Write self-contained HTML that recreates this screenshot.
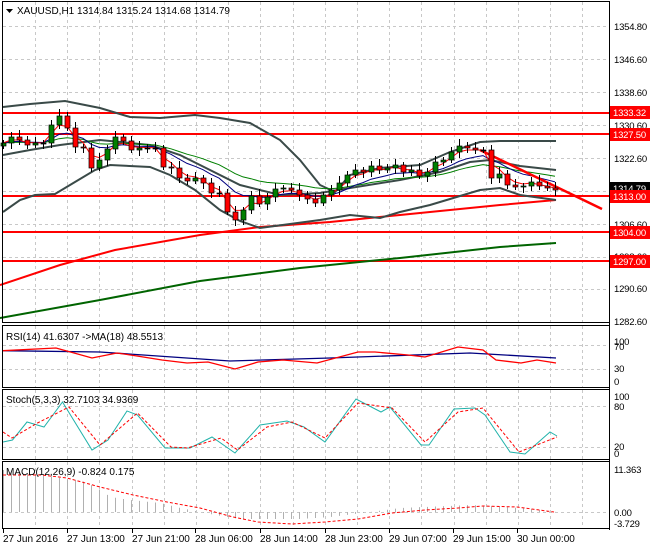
<!DOCTYPE html>
<html><head><meta charset="utf-8"><style>
html,body{margin:0;padding:0;background:#fff;}
svg{display:block;font-family:"Liberation Sans",sans-serif;font-size:10px;}
.ax text{font-size:9.5px;letter-spacing:-0.2px;}
</style></head><body>
<svg id="c" width="650" height="550" xmlns="http://www.w3.org/2000/svg">
<rect width="650" height="550" fill="#fff"/>
<g id="grid" stroke="#c8c8c8" stroke-dasharray="3,3" stroke-width="1"></g>
<g id="main"></g>
<g fill="none" stroke="#000" stroke-width="1">
<rect x="2.5" y="1.5" width="607" height="321"/>
<rect x="2.5" y="325.5" width="607" height="62"/>
<rect x="2.5" y="389.5" width="607" height="70"/>
<rect x="2.5" y="461.5" width="607" height="67"/>
</g>
<g id="ticks" stroke="#000"></g>
<path d="M6 9 L13 9 L9.5 13 Z" fill="#000"/>
<text x="17" y="14" fill="#000">XAUUSD,H1  1314.84 1315.24 1314.68 1314.79</text>
<text x="6" y="340" fill="#000">RSI(14) 41.6307  -&gt;MA(18) 48.5513</text>
<text x="6" y="403" fill="#000">Stoch(5,3,3) 32.7103 34.9369</text>
<text x="6" y="475" fill="#000">MACD(12,26,9) -0.824 0.175</text>
<g class="ax" fill="#000">
<text x="614" y="30">1354.80</text>
<text x="614" y="63">1346.60</text>
<text x="614" y="96">1338.60</text>
<text x="614" y="129">1330.60</text>
<text x="614" y="162">1322.60</text>
<text x="614" y="228">1306.60</text>
<text x="614" y="260">1298.60</text>
<text x="614" y="292">1290.60</text>
<text x="614" y="325">1282.60</text>
<text x="614" y="345">100</text>
<text x="614" y="350">70</text>
<text x="614" y="372">30</text>
<text x="614" y="385">0</text>
<text x="614" y="400">100</text>
<text x="614" y="410">80</text>
<text x="614" y="450">20</text>
<text x="614" y="457">0</text>
<text x="614" y="473">11.363</text>
<text x="614" y="516">0.00</text>
<text x="614" y="527">-3.729</text>
</g>
<g class="ax">
<rect x="610" y="106" width="40" height="13" fill="#f00"/><text x="613" y="116" fill="#fff">1333.32</text>
<rect x="610" y="128" width="40" height="13" fill="#f00"/><text x="613" y="138" fill="#fff">1327.50</text>
<rect x="610" y="182" width="40" height="13" fill="#000"/><text x="613" y="192" fill="#fff">1314.79</text>
<rect x="610" y="190" width="40" height="13" fill="#f00"/><text x="613" y="200" fill="#fff">1313.00</text>
<rect x="610" y="226" width="40" height="13" fill="#f00"/><text x="613" y="236" fill="#fff">1304.00</text>
<rect x="610" y="255" width="40" height="13" fill="#f00"/><text x="613" y="265" fill="#fff">1297.00</text>
</g>
<g fill="#000">
<text x="3" y="542">27 Jun 2016</text>
<text x="67" y="542">27 Jun 13:00</text>
<text x="132" y="542">27 Jun 21:00</text>
<text x="195" y="542">28 Jun 06:00</text>
<text x="260" y="542">28 Jun 14:00</text>
<text x="325" y="542">28 Jun 23:00</text>
<text x="389" y="542">29 Jun 07:00</text>
<text x="453" y="542">29 Jun 15:00</text>
<text x="517" y="542">30 Jun 00:00</text>
</g>
</svg>
<script>
var NS="http://www.w3.org/2000/svg";
function el(p,t,a){var e=document.createElementNS(NS,t);for(var k in a)e.setAttribute(k,a[k]);document.getElementById(p).appendChild(e);return e;}
function pl(p,pts,col,w,dash){var s=pts.map(function(q){return q[0]+","+q[1]}).join(" ");var a={points:s,fill:"none",stroke:col,"stroke-width":w};if(dash)a["stroke-dasharray"]=dash;el(p,"polyline",a);}
var gx=[];for(var x=35;x<609;x+=32.2)gx.push(Math.round(x)+0.5);
gx.forEach(function(x){el("grid","line",{x1:x,y1:2,x2:x,y2:322});el("grid","line",{x1:x,y1:326,x2:x,y2:387});el("grid","line",{x1:x,y1:390,x2:x,y2:459});el("grid","line",{x1:x,y1:462,x2:x,y2:528});});
[26,59,92,125,158,191,224,257,289].forEach(function(y){el("grid","line",{x1:3,y1:y+.5,x2:609,y2:y+.5});});
[345,369,406,447,512].forEach(function(y){el("grid","line",{x1:3,y1:y+.5,x2:609,y2:y+.5});});
[3,67,132,195,260,325,389,453,517].forEach(function(x){el("ticks","line",{x1:x+.5,y1:529,x2:x+.5,y2:533});});
el("ticks","line",{x1:609.5,y1:1,x2:609.5,y2:530});
[113,134,196,232,261].forEach(function(y){el("main","line",{x1:2,y1:y,x2:609,y2:y,stroke:"#f00","stroke-width":2});});
pl("main",[[0,285],[60,265],[115,250],[200,235],[260,227],[330,222],[400,215],[450,210],[500,205],[556,200]],"#f00",2);
pl("main",[[0,318],[100,300],[200,281],[300,268],[400,258],[500,247],[556,243]],"#006400",2);
var bc="#3a4a48";
pl("main",[[3,107],[30,104],[65,101],[100,108],[130,117],[160,118],[195,115],[220,118],[250,123],[280,140],[300,160],[320,185],[335,192],[350,175],[380,168],[420,165],[450,152],[480,142],[500,141],[556,141]],bc,2);
pl("main",[[3,212],[20,200],[35,195],[55,194],[75,182],[95,170],[110,165],[150,167],[170,175],[195,190],[220,210],[240,221],[260,228],[290,224],[320,220],[350,215],[380,218],[400,212],[430,205],[460,196],[480,190],[500,188],[520,195],[556,200]],bc,2);
pl("main",[[3,155],[30,150],[60,145],[100,140],[150,145],[180,155],[200,165],[240,185],[280,195],[320,193],[350,188],[400,180],[440,172],[470,162],[490,160],[520,166],[556,170]],bc,2);
var C=[143,137,140,145,143,143,125,116,128,147,148,168,160,149,137,141,150,148,148,148,167,168,178,181,178,183,193,193,212,220,210,196,204,197,189,188,190,195,199,203,195,190,183,175,170,172,166,170,168,165,172,170,176,172,162,160,152,146,148,150,150,178,174,185,187,186,182,186,188,190];
var X=function(i){return 3+8*i;};
function ema(n){var k=2/(n+1),v=C[0],r=[];C.forEach(function(c,i){v=i?c*k+v*(1-k):c;r.push([X(i),v.toFixed(1)]);});return r;}
pl("main",ema(21),"#008000",1);
pl("main",ema(9),"#000080",1);
pl("main",ema(3),"#f00",1);
el("main","line",{x1:480,y1:150,x2:602,y2:209,stroke:"#f00","stroke-width":2.5});
C.forEach(function(c,i){var o=i?C[i-1]:146;var x=X(i);var hi=Math.min(o,c)-3-(i*7%5),lo=Math.max(o,c)+3+(i*3%4);
el("main","line",{x1:x+.5,y1:hi,x2:x+.5,y2:lo,stroke:"#000"});
var t=Math.min(o,c),h=Math.max(Math.abs(o-c),1);
el("main","rect",{x:x-2,y:t,width:5,height:h,fill:c<o?"#008000":(c>o?"#f00":"#000"),stroke:"#000","stroke-width":.7});});
pl("main",[[3,350.7],[100,352],[230,361],[330,358],[470,353],[556,358]],"#000080",1.3);
pl("main",[[3,350.7],[56,348],[92,358],[117,353],[137,356],[162,360],[187,363],[208,362],[235,369],[258,362],[283,360],[317,363],[358,352],[375,352],[408,355],[425,357],[458,347],[483,350],[496,360],[521,363],[537,360],[556,363]],"#f00",1.3);
pl("main",[[3,442],[12.5,440],[27,422],[44,427],[62.5,402],[92,450],[108,440],[127,411],[137.5,415],[165,448],[190,448],[212,437],[235,453],[260,425],[287,421],[304,427],[325,442],[356,399],[381,412],[390,407],[421,445],[429,445],[454,409],[475,408],[485,415],[510,452],[525,454],[550,432],[557,436]],"#20b2aa",1);
pl("main",[[3,432],[12,438],[37.5,423],[69,407],[100,445],[137.5,413],[171,447],[187.5,448],[221,438],[237.5,450],[267,427],[292,422],[325,438],[358,403],[392,408],[425,442],[458,412],[483,408],[519,452],[557,437]],"#f00",1,"3,2");
var hp=[[3,470],[30,474],[60,478],[85,482],[100,490],[110,497],[130,500],[160,503],[180,508],[200,512],[215,515],[240,519],[300,519],[330,517],[370,512],[400,508],[470,505],[520,508],[556,512]];
function interp(x){for(var j=1;j<hp.length;j++){if(x<=hp[j][0]){var a=hp[j-1],b=hp[j];return a[1]+(b[1]-a[1])*(x-a[0])/(b[0]-a[0]);}}return 512;}
for(var i=0;i<70;i++){var x=X(i)+.5,y=interp(X(i));el("main","line",{x1:x,y1:512,x2:x,y2:y,stroke:"#b0b0b0"});}
pl("main",[[3,475],[42,475],[67,478],[100,487],[133,495],[167,502],[200,508],[233,517],[258,522],[292,524],[325,522],[358,519],[392,513],[425,510],[458,508],[483,506],[517,507],[554,512]],"#f00",1,"3,2");
</script>
</body></html>
